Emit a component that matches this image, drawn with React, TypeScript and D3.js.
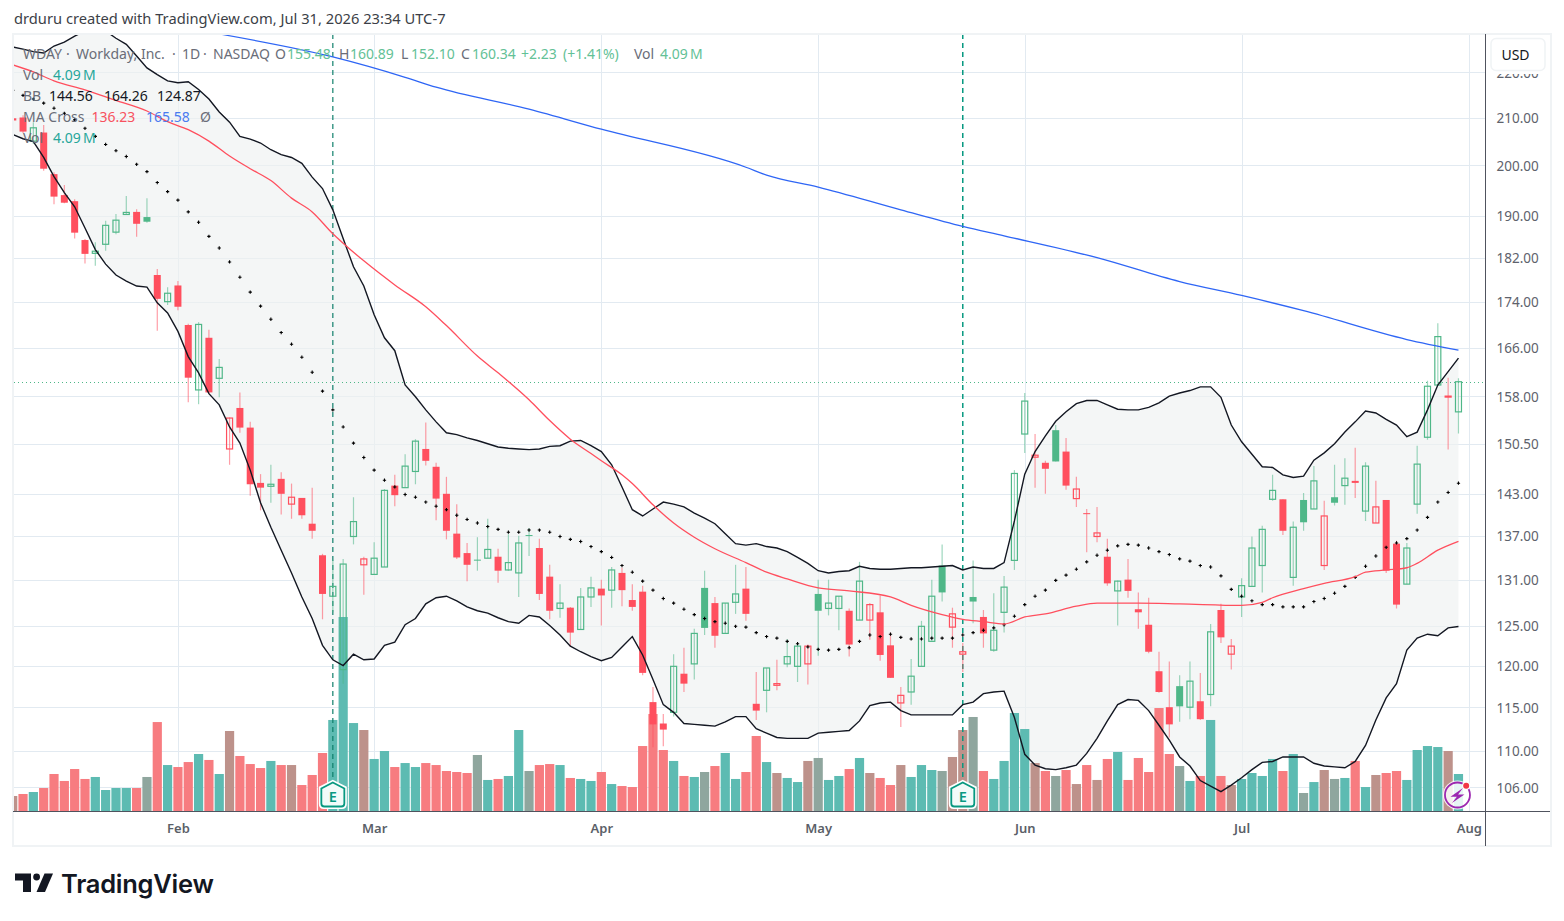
import { useEffect, useRef } from 'react';
import * as d3 from 'd3';

// R = filled red, G = hollow green, B = hollow red, T = filled green
const barKinds = (
  'BRGRRRRRGG' + 'GGRTRGRRGR' + 'GBRRRGRBRR' + 'RGGGBGGRGG' + 'RRRRRTGRGG' +
  'TRRGRGGRGR' + 'RRRRGRGTRG' + 'GRRGBGGBTG' + 'GRGBRRBGGG' + 'TBBTRGGGGB' +
  'RTRBRBRGRR' + 'RRRTGRGRBG' + 'GGGRGTGBTG' + 'RGBRRGGGGB' + 'G'
).split('');

const opens = [
  209.5, 210.0, 205.0, 206.8, 198.2, 194.0, 192.8, 185.3, 182.8, 184.5,
  186.8, 190.2, 190.7, 189.7, 178.8, 174.0, 176.9, 169.9, 159.0, 167.7,
  160.9, 149.7, 156.1, 153.0, 144.6, 144.1, 145.2, 141.5, 142.4, 138.7,
  134.3, 128.8, 119.5, 136.9, 133.0, 131.7, 132.7, 144.2, 143.9, 146.3,
  149.7, 147.0, 143.0, 137.3, 134.6, 133.7, 133.9, 134.1, 132.3, 131.9,
  137.1, 135.3, 131.4, 127.2, 127.3, 124.5, 128.7, 129.8, 129.6, 131.9,
  128.3, 129.4, 115.6, 113.1, 114.4, 119.0, 120.2, 129.9, 127.9, 124.0,
  128.0, 129.8, 115.4, 117.0, 117.6, 120.2, 119.9, 120.2, 129.1, 127.2,
  127.2, 126.9, 125.7, 125.7, 126.7, 122.5, 115.5, 116.8, 119.9, 123.0,
  132.9, 124.8, 121.4, 128.7, 126.1, 121.9, 126.7, 133.6, 152.0, 148.45,
  147.6, 152.6, 149.3, 142.3, 140.2, 136.9, 134.1, 129.5, 131.0, 127.1,
  125.1, 119.3, 115.0, 117.5, 115.0, 115.7, 116.5, 127.0, 121.4, 128.7,
  130.1, 132.9, 142.2, 142.2, 131.3, 142.1, 140.8, 132.9, 142.5, 144.2,
  144.9, 140.5, 138.8, 142.1, 135.9, 130.4, 141.5, 151.5, 159.8, 157.9,
  155.48,
];
const highs = [
  210.1, 210.5, 209.0, 208.4, 198.6, 196.0, 193.2, 185.5, 184.9, 189.0,
  190.3, 193.8, 191.2, 193.4, 179.9, 176.6, 177.7, 170.1, 170.4, 169.1,
  164.1, 154.6, 158.6, 153.9, 145.9, 147.3, 146.2, 144.5, 142.4, 143.9,
  134.5, 133.7, 133.8, 142.5, 134.1, 136.1, 143.7, 145.8, 148.9, 151.2,
  153.8, 147.6, 145.5, 141.5, 136.0, 136.8, 139.4, 135.2, 137.2, 137.0,
  138.1, 136.6, 133.0, 130.4, 127.4, 129.9, 131.4, 131.0, 132.7, 132.6,
  130.4, 130.2, 117.4, 114.2, 121.4, 122.2, 124.6, 132.2, 128.7, 127.9,
  133.0, 132.7, 119.2, 119.7, 120.7, 123.3, 122.8, 122.6, 131.0, 131.0,
  128.8, 127.2, 133.4, 127.9, 128.9, 124.1, 117.4, 120.8, 125.6, 131.0,
  135.8, 127.3, 122.8, 133.6, 127.0, 129.2, 131.5, 146.5, 158.5, 152.0,
  147.9, 153.4, 151.4, 145.5, 140.8, 141.1, 136.6, 130.9, 133.8, 129.3,
  128.6, 121.7, 120.5, 118.8, 120.5, 119.1, 125.2, 127.8, 123.3, 131.2,
  136.9, 138.4, 145.8, 142.2, 139.0, 143.1, 147.1, 142.0, 147.3, 148.3,
  149.9, 147.7, 144.9, 142.1, 136.3, 136.0, 150.2, 160.5, 170.2, 161.0,
  160.89,
];
const lows = [
  208.4, 206.7, 204.4, 198.9, 192.2, 192.4, 185.6, 180.9, 180.5, 183.3,
  186.4, 190.1, 185.9, 188.6, 168.9, 173.4, 172.5, 157.0, 156.7, 158.5,
  157.8, 147.3, 152.2, 142.7, 140.6, 141.7, 140.0, 139.4, 139.4, 136.6,
  125.8, 126.7, 117.8, 135.8, 129.0, 131.7, 132.7, 141.2, 143.9, 144.4,
  147.2, 139.2, 136.5, 133.8, 130.8, 132.2, 133.9, 130.6, 132.2, 128.7,
  134.2, 128.3, 125.8, 126.0, 122.3, 124.5, 127.4, 125.0, 127.3, 127.5,
  126.9, 118.8, 110.4, 110.5, 113.9, 116.8, 118.3, 123.8, 122.2, 124.0,
  126.5, 125.6, 113.5, 114.4, 117.0, 119.8, 118.0, 117.7, 121.2, 126.3,
  124.4, 121.1, 125.7, 123.2, 120.6, 118.5, 112.7, 115.3, 119.9, 123.0,
  128.1, 122.2, 119.2, 125.3, 122.2, 121.7, 124.1, 132.3, 149.1, 143.9,
  143.0, 147.8, 143.6, 141.1, 134.7, 136.1, 130.2, 125.0, 128.6, 124.6,
  121.5, 116.7, 111.5, 113.3, 113.6, 113.5, 115.1, 122.8, 119.5, 126.1,
  130.1, 129.3, 142.0, 137.1, 130.2, 137.7, 140.8, 132.3, 141.3, 141.4,
  142.4, 139.1, 138.8, 131.9, 127.2, 130.4, 140.1, 151.1, 159.8, 149.6,
  152.1,
];
const closes = [
  209.7, 207.0, 207.8, 199.3, 193.7, 192.5, 186.7, 182.7, 183.2, 188.1,
  189.1, 190.6, 188.4, 188.8, 174.5, 175.5, 173.1, 161.0, 170.0, 158.6,
  162.7, 154.5, 153.0, 144.4, 143.9, 144.4, 143.0, 142.5, 139.9, 137.7,
  129.1, 130.1, 133.1, 139.0, 133.8, 133.9, 143.5, 142.8, 147.1, 150.9,
  147.9, 142.3, 137.7, 134.0, 133.0, 133.6, 135.1, 132.2, 133.3, 136.0,
  137.0, 129.1, 126.9, 127.9, 124.1, 128.7, 129.9, 128.9, 132.3, 129.6,
  127.4, 119.1, 113.0, 112.4, 119.9, 117.8, 124.0, 124.7, 123.7, 127.9,
  129.1, 126.5, 114.6, 119.7, 117.8, 121.1, 122.4, 122.4, 126.9, 127.9,
  128.8, 122.6, 130.8, 127.7, 121.3, 118.5, 116.4, 118.7, 124.9, 128.8,
  129.3, 126.5, 121.7, 128.1, 124.0, 124.4, 130.0, 146.0, 157.2, 148.75,
  146.7, 147.8, 144.2, 143.7, 140.1, 137.4, 130.5, 130.8, 129.5, 126.7,
  121.7, 116.8, 113.0, 115.1, 118.1, 113.6, 124.2, 123.5, 122.4, 130.2,
  135.3, 137.9, 143.5, 137.7, 138.2, 138.9, 144.9, 139.8, 141.7, 145.3,
  144.6, 147.1, 141.1, 132.2, 127.7, 135.3, 147.4, 159.6, 167.9, 158.0,
  160.34,
];
// volume in millions of shares
const volumes = [
  1.66, 1.88, 2.1, 2.54, 4.09, 3.32, 4.64, 3.54, 3.76, 2.32,
  2.54, 2.54, 2.54, 3.76, 9.83, 5.08, 4.86, 5.41, 6.3, 5.64,
  4.09, 8.84, 6.08, 5.19, 4.75, 5.53, 5.08, 5.08, 2.87, 3.98,
  6.41, 10.06, 21.44, 9.72, 8.95, 5.75, 6.63, 4.86, 5.3, 4.86,
  5.3, 5.08, 4.42, 4.31, 4.2, 6.19, 3.43, 3.54, 3.87, 8.95,
  4.42, 5.08, 5.19, 5.08, 3.65, 3.54, 3.32, 4.31, 2.98, 2.76,
  2.65, 7.18, 10.72, 6.74, 5.53, 3.87, 3.76, 4.31, 4.97, 6.41,
  3.54, 4.31, 8.29, 5.41, 4.2, 3.65, 3.2, 5.53, 5.86, 3.43,
  3.87, 4.64, 5.86, 4.2, 3.65, 2.87, 5.08, 3.76, 5.08, 4.53,
  4.42, 5.97, 8.95, 10.39, 4.42, 3.54, 5.53, 10.83, 9.06, 5.3,
  4.42, 3.87, 4.53, 2.98, 5.08, 3.43, 5.75, 6.52, 3.43, 5.86,
  4.31, 11.38, 6.3, 4.97, 3.32, 3.87, 10.06, 3.87, 2.87, 3.54,
  4.2, 3.87, 5.75, 4.42, 6.3, 1.99, 3.2, 4.53, 3.54, 3.65,
  5.53, 2.65, 3.98, 4.2, 4.42, 3.43, 6.74, 7.18, 7.07, 6.63,
  4.09,
];
const bbUpper = [
  225.7, 225.2, 224.6, 224.3, 225.9, 226.8, 228.2, 229.4, 229.6, 229.4,
  227.7, 226.3, 223.6, 220.9, 219.4, 218.0, 217.6, 217.8, 216.1, 214.0,
  211.2, 209.0, 206.0, 205.4, 204.6, 203.2, 202.2, 201.6, 200.4, 197.6,
  195.3, 191.1, 185.6, 180.3, 176.8, 171.7, 167.7, 165.5, 159.8, 157.9,
  155.8, 153.9, 152.2, 151.9, 151.4, 151.0, 150.5, 150.0, 149.8, 149.7,
  149.6, 149.7, 150.1, 150.2, 150.9, 151.0, 150.2, 149.3, 147.3, 144.0,
  140.7, 139.8, 140.8, 141.8, 141.5, 141.1, 140.2, 139.5, 138.7, 137.3,
  135.9, 135.7, 135.9, 135.5, 135.3, 134.8, 134.0, 133.2, 132.2, 131.9,
  132.1, 132.2, 132.8, 132.5, 132.4, 132.4, 132.5, 132.6, 132.6, 132.7,
  132.8, 132.9, 132.3, 132.7, 132.5, 132.5, 133.3, 139.1, 145.9, 149.3,
  151.7, 154.0, 155.5, 156.8, 157.3, 157.3, 156.6, 155.9, 155.8, 155.8,
  156.2, 156.9, 158.0, 158.5, 158.9, 159.5, 159.5, 157.8, 153.4, 150.8,
  148.9, 147.0, 146.9, 145.8, 145.4, 145.6, 148.0, 149.1, 150.5, 152.3,
  153.9, 155.6, 155.3, 154.3, 153.4, 151.6, 152.3, 155.8, 159.8, 162.0,
  164.26,
];
const bbLower = [
  206.4, 205.5, 204.9, 201.6, 197.7, 194.5, 191.7, 187.6, 183.5, 180.8,
  178.8, 177.7, 176.8, 176.6, 173.8, 172.0, 168.8, 164.5, 161.8, 158.4,
  156.6, 153.1, 150.6, 146.5, 141.7, 138.2, 135.0, 131.9, 128.7, 125.9,
  122.5, 120.7, 120.0, 121.4, 120.7, 120.8, 122.5, 122.9, 125.1, 125.9,
  127.8, 128.6, 128.8, 128.2, 127.4, 126.9, 126.6, 126.0, 125.5, 125.3,
  126.3, 126.1, 125.0, 123.8, 122.4, 121.7, 121.1, 120.6, 121.0, 122.3,
  123.6, 121.3, 118.3, 115.3, 114.4, 113.1, 113.0, 112.9, 112.8, 113.3,
  113.9, 113.9, 112.5, 112.0, 111.5, 111.4, 111.4, 111.4, 112.0, 112.1,
  112.2, 112.3, 113.4, 115.2, 115.5, 115.6, 114.6, 114.1, 114.1, 114.1,
  114.1, 114.1, 115.3, 115.6, 116.6, 116.8, 116.9, 113.8, 109.6, 108.4,
  108.0, 107.9, 108.1, 108.4, 109.7, 111.4, 113.4, 115.3, 115.9, 115.8,
  114.6, 112.9, 111.2, 109.3, 108.3, 106.7, 106.1, 105.5, 106.2, 107.0,
  107.9, 108.7, 108.8, 109.3, 109.3, 109.3, 108.6, 108.3, 108.2, 108.1,
  108.8, 110.6, 113.5, 116.1, 117.8, 121.9, 123.4, 123.9, 123.7, 124.7,
  124.87,
];
const bbBasis = [
  215.9, 214.8, 214.0, 213.1, 212.0, 210.9, 209.5, 207.7, 206.0, 204.3,
  203.0, 201.8, 200.2, 198.7, 196.5, 194.7, 193.0, 190.7, 188.7, 186.0,
  183.8, 181.2, 178.4, 175.7, 173.2, 170.9, 168.6, 166.6, 164.4, 161.9,
  158.8, 155.8, 153.1, 150.6, 148.4, 146.5, 145.0, 144.0, 142.9, 142.5,
  141.8, 141.2, 140.7, 139.9, 139.3, 138.8, 138.3, 137.9, 137.5, 137.5,
  137.8, 137.8, 137.5, 136.9, 136.5, 136.2, 135.5, 134.8, 134.0, 132.9,
  132.0, 130.8, 129.6, 128.5, 127.9, 127.1, 126.4, 125.9, 125.5, 125.3,
  124.9, 124.8, 124.1, 123.6, 123.4, 123.0, 122.7, 122.3, 122.0, 121.9,
  122.0, 122.2, 123.0, 123.8, 123.6, 123.9, 123.5, 123.3, 123.3, 123.4,
  123.4, 123.4, 123.8, 124.1, 124.4, 124.7, 125.1, 126.2, 127.7, 128.8,
  129.6, 130.9, 131.6, 132.4, 133.4, 134.3, 135.0, 135.6, 135.8, 135.7,
  135.3, 134.8, 134.4, 133.8, 133.5, 132.9, 132.7, 131.5, 129.7, 128.8,
  128.2, 127.7, 127.7, 127.4, 127.4, 127.4, 128.1, 128.5, 129.2, 130.1,
  131.3, 132.8, 134.2, 135.4, 136.0, 136.6, 137.8, 139.6, 141.8, 143.2,
  144.56,
];
const ma50Bars = [
  0, 2, 4, 7, 10, 13, 15, 17, 19, 21, 23, 25, 27, 29, 31, 32, 34, 37, 40, 42,
  45, 47, 50, 52, 54, 56, 57, 59, 60, 62, 64, 66, 68, 71, 73, 75, 78, 81, 85, 87,
  90, 92, 94, 96, 98, 100, 103, 105, 109, 113, 119, 121, 122, 125, 127, 130, 131, 133, 135, 136,
  138, 140,
];
const ma50Values = [
  221.6, 220.0, 218.0, 216.0, 213.7, 211.4, 209.1, 207.4, 205.0, 201.9, 199.3, 196.9, 193.4, 190.7, 186.5, 184.7, 181.4, 177.0, 173.1, 169.8,
  164.6, 161.8, 157.4, 154.1, 151.2, 149.0, 147.9, 145.8, 144.5, 141.4, 138.8, 136.8, 135.2, 133.3, 132.0, 131.1, 129.9, 129.5, 128.7, 127.6,
  126.4, 125.8, 125.5, 125.2, 126.1, 126.5, 127.5, 127.9, 127.9, 127.8, 127.6, 128.0, 128.6, 129.8, 130.5, 131.4, 132.0, 132.3, 132.6, 133.2,
  135.0, 136.23,
];
const ma200Bars = [20, 31, 38, 41, 50, 57, 71, 73, 78, 86, 92, 96, 105, 113, 119, 125, 135, 140];
const ma200Values = [228.7, 223.4, 218.8, 216.6, 211.8, 207.5, 199.6, 198.0, 195.6, 191.1, 187.9, 186.1, 182.0, 177.6, 175.1, 172.4, 167.4, 165.58];

const priceTicks = [220, 210, 200, 190, 182, 174, 166, 158, 150.5, 143, 137, 131, 125, 120, 115, 110, 106];
const monthLabels = ['Feb', 'Mar', 'Apr', 'May', 'Jun', 'Jul', 'Aug'];
const monthBars = [16, 35, 57, 78, 98, 119, 141];
const earningsBars = [31, 92];
const lastClose = 160.34;

const GREEN = '#4fb788';
const RED = '#ff4f5e';
const BLUE = '#2f66f5';
const TEAL = '#26a69a';
const GRID = '#e2eaf1';
const FRAME = '#f0f3f5';
const FONT = '"Noto Sans", sans-serif';
const volumeColors: Record<string, string> = { R: '#f77c80', G: '#5dbbb2', B: '#bd928b', T: '#8fa69e' };

export default function App() {
  const svgRef = useRef<SVGSVGElement>(null);

  useEffect(() => {
    if (!svgRef.current) return;
    const svg = d3.select(svgRef.current);
    svg.selectAll('*').remove();

    const left = 14;
    const right = 1485.5;
    const top = 34;
    const bottom = 811;

    const x = d3.scaleLinear().domain([0, 141]).range([12.7, 1468.8]);
    const y = d3.scaleLog().domain([106, 210]).range([787, 117.5]);
    const yVol = d3.scaleLinear().domain([0, 21.44]).range([bottom, 617]);
    const bars = d3.range(closes.length);
    const crisp = (v: number) => Math.round(v) + 0.5;
    const isGreen = (i: number) => barKinds[i] === 'G' || barKinds[i] === 'T';
    const isHollow = (i: number) => barKinds[i] === 'G' || barKinds[i] === 'B';

    svg.append('clipPath').attr('id', 'pane').append('rect')
      .attr('x', left).attr('y', top).attr('width', right - left).attr('height', bottom - top);

    const gridLayer = svg.append('g').attr('clip-path', 'url(#pane)');
    gridLayer.selectAll('.h').data(priceTicks).join('line')
      .attr('x1', left).attr('x2', right)
      .attr('y1', (d) => crisp(y(d))).attr('y2', (d) => crisp(y(d)))
      .attr('stroke', GRID).attr('stroke-width', 1);
    gridLayer.selectAll('.v').data(monthBars).join('line')
      .attr('x1', (d) => crisp(x(d))).attr('x2', (d) => crisp(x(d)))
      .attr('y1', top).attr('y2', bottom)
      .attr('stroke', GRID).attr('stroke-width', 1);

    const pane = svg.append('g').attr('clip-path', 'url(#pane)');

    // bollinger fill sits under the volume
    const band = d3.area<number>()
      .x((i) => x(i))
      .y0((i) => y(bbLower[i]))
      .y1((i) => y(bbUpper[i]));
    pane.append('path').attr('d', band(bars)).attr('fill', '#eef1f1').attr('fill-opacity', 0.65);

    // volume
    pane.append('g').selectAll('rect').data(bars).join('rect')
      .attr('x', (i) => x(i) - 4.6)
      .attr('width', 9.2)
      .attr('y', (i) => yVol(volumes[i]))
      .attr('height', (i) => bottom - yVol(volumes[i]))
      .attr('fill', (i) => volumeColors[barKinds[i]]);

    // earnings lines, the later one is the stronger in the picture
    pane.selectAll('.earn').data(earningsBars).join('line')
      .attr('x1', (d) => x(d)).attr('x2', (d) => x(d))
      .attr('y1', top).attr('y2', 782)
      .attr('stroke', (_, k) => (k === 0 ? '#0f7f6b' : '#089981'))
      .attr('stroke-width', (_, k) => (k === 0 ? 1.2 : 1.5))
      .attr('stroke-dasharray', '5,4');

    // last price
    pane.append('line')
      .attr('x1', left).attr('x2', right)
      .attr('y1', crisp(y(lastClose))).attr('y2', crisp(y(lastClose)))
      .attr('stroke', GREEN).attr('stroke-width', 1).attr('stroke-dasharray', '1,3');

    // candles
    const candles = pane.append('g');
    candles.selectAll('line').data(bars).join('line')
      .attr('x1', (i) => x(i)).attr('x2', (i) => x(i))
      .attr('y1', (i) => y(highs[i])).attr('y2', (i) => y(lows[i]))
      .attr('stroke', (i) => (isGreen(i) ? GREEN : RED))
      .attr('stroke-opacity', 0.55)
      .attr('stroke-width', 1.2);
    candles.selectAll('rect').data(bars).join('rect')
      .attr('x', (i) => x(i) - (isHollow(i) ? 3 : 3.5))
      .attr('width', (i) => (isHollow(i) ? 6 : 7))
      .attr('y', (i) => y(Math.max(opens[i], closes[i])))
      .attr('height', (i) => Math.max(1, y(Math.min(opens[i], closes[i])) - y(Math.max(opens[i], closes[i]))))
      .attr('fill', (i) => (isHollow(i) ? '#ffffff' : isGreen(i) ? GREEN : RED))
      .attr('fill-opacity', (i) => (isHollow(i) ? 0 : 1))
      .attr('stroke', (i) => (isGreen(i) ? GREEN : RED))
      .attr('stroke-width', (i) => (isHollow(i) ? 1.2 : 0));

    // bollinger basis as small crosses, then lines
    const cross = d3.symbol().type(d3.symbolCross).size(6);
    pane.append('g').selectAll('path').data(bars).join('path')
      .attr('d', cross())
      .attr('transform', (i) => `translate(${x(i)},${y(bbBasis[i])})`)
      .attr('fill', '#000000');

    const series = (vals: number[]) => d3.line<number>().x((i) => x(i)).y((i) => y(vals[i]))(bars);
    pane.append('path').attr('d', series(bbUpper)).attr('fill', 'none').attr('stroke', '#131722').attr('stroke-width', 1.4);
    pane.append('path').attr('d', series(bbLower)).attr('fill', 'none').attr('stroke', '#131722').attr('stroke-width', 1.4);

    const knots = (idx: number[], vals: number[]) =>
      d3.line<number>().x((_, k) => x(idx[k])).y((_, k) => y(vals[k])).curve(d3.curveMonotoneX)(idx);
    pane.append('path').attr('d', knots(ma50Bars, ma50Values)).attr('fill', 'none').attr('stroke', RED).attr('stroke-width', 1.3);
    pane.append('path').attr('d', knots(ma200Bars, ma200Values)).attr('fill', 'none').attr('stroke', BLUE).attr('stroke-width', 1.3);

    // axes
    const yAxis = d3.axisRight(y).tickValues(priceTicks).tickFormat((d) => d3.format('.2f')(d as number)).tickSize(0).tickPadding(11);
    const yG = svg.append('g').attr('transform', `translate(${right},0.8)`).call(yAxis);
    yG.select('.domain').remove();
    yG.selectAll('text').attr('font-family', FONT).attr('font-size', 13.5).attr('fill', '#5e626c');

    const xAxis = d3.axisBottom(x).tickValues(monthBars)
      .tickFormat((_, i) => monthLabels[i]).tickSize(0).tickPadding(12.5);
    const xG = svg.append('g').attr('transform', `translate(0,${bottom})`).call(xAxis);
    xG.select('.domain').remove();
    xG.selectAll('text').attr('font-family', FONT).attr('font-size', 13).attr('font-weight', 600).attr('fill', '#5b5f68');

    // frame and scale lines
    svg.append('rect').attr('x', 13).attr('y', 34).attr('width', 1538).attr('height', 812)
      .attr('fill', 'none').attr('stroke', FRAME).attr('stroke-width', 2);
    svg.append('line').attr('x1', right).attr('x2', right).attr('y1', top).attr('y2', 846).attr('stroke', '#50535e').attr('stroke-width', 1);
    svg.append('line').attr('x1', 13).attr('x2', 1550).attr('y1', bottom + 0.5).attr('y2', bottom + 0.5).attr('stroke', '#50535e').attr('stroke-width', 1);

    // currency button covers the top tick label
    svg.append('rect').attr('x', 1488).attr('y', 36).attr('width', 61).attr('height', 38).attr('fill', '#ffffff');
    svg.append('rect').attr('x', 1491).attr('y', 38.5).attr('width', 54).attr('height', 32).attr('rx', 5)
      .attr('fill', '#ffffff').attr('stroke', FRAME).attr('stroke-width', 1.5);
    svg.append('text').attr('x', 1515.5).attr('y', 59.5).attr('text-anchor', 'middle')
      .attr('font-family', FONT).attr('font-size', 14).attr('fill', '#131722').text('USD');

    // earnings flags
    const flags = svg.append('g').selectAll('g').data(earningsBars).join('g')
      .attr('transform', (d) => `translate(${x(d)},0)`);
    flags.append('path')
      .attr('d', 'M0,782 L12,788 V804 Q12,807 9,807 H-9 Q-12,807 -12,804 V788 Z')
      .attr('fill', '#f2fbf9').attr('stroke', '#ffffff').attr('stroke-width', 4).attr('paint-order', 'stroke');
    flags.append('path')
      .attr('d', 'M0,782.5 L11.5,788.5 V803.5 Q11.5,806.5 8.5,806.5 H-8.5 Q-11.5,806.5 -11.5,803.5 V788.5 Z')
      .attr('fill', 'none').attr('stroke', '#089981').attr('stroke-width', 1.8);
    flags.append('text').attr('y', 802).attr('text-anchor', 'middle')
      .attr('font-family', FONT).attr('font-size', 14.5).attr('font-weight', 600).attr('fill', '#089981').text('E');

    // lightning badge on the last bar
    const badge = svg.append('g').attr('transform', `translate(${x(140) - 1},795)`);
    badge.append('circle').attr('r', 14.5).attr('fill', '#ffffff').attr('fill-opacity', 0.85);
    badge.append('circle').attr('r', 12.5).attr('fill', 'none').attr('stroke', '#9c27b0').attr('stroke-width', 1.8);
    badge.append('path').attr('d', 'M5.5,-7 L-7,1.8 L-0.6,1.8 L-5.5,8 L7,-0.6 L0.6,-0.6 Z').attr('fill', '#9c27b0');
    badge.append('circle').attr('cx', 8.7).attr('cy', -9.3).attr('r', 4.2).attr('fill', '#ffffff');
    badge.append('circle').attr('cx', 8.7).attr('cy', -9.3).attr('r', 3).attr('fill', '#f23645');

    // header and legend
    svg.append('text').attr('x', 14).attr('y', 24)
      .attr('font-family', FONT).attr('font-size', 14.7).attr('fill', '#3c3f47')
      .text('drduru created with TradingView.com, Jul 31, 2026 23:34 UTC-7');

    const legendItems: [number, number, string, string][] = [
      [23, 59, 'WDAY', '#6a6d78'], [66, 59, '·', '#6a6d78'], [76, 59, 'Workday, Inc.', '#6a6d78'],
      [172, 59, '·', '#6a6d78'], [182, 59, '1D', '#6a6d78'], [203, 59, '·', '#6a6d78'], [213, 59, 'NASDAQ', '#6a6d78'],
      [275, 59, 'O', '#6a6d78'], [287, 59, '155.48', '#63c196'],
      [339, 59, 'H', '#6a6d78'], [350, 59, '160.89', '#63c196'],
      [401, 59, 'L', '#6a6d78'], [411, 59, '152.10', '#63c196'],
      [461, 59, 'C', '#6a6d78'], [472, 59, '160.34', '#63c196'],
      [521, 59, '+2.23', '#63c196'], [563, 59, '(+1.41%)', '#63c196'],
      [634, 59, 'Vol', '#6a6d78'], [660, 59, '4.09\u2009M', '#63c196'],
      [23, 80, 'Vol', '#6a6d78'], [53, 80, '4.09\u2009M', TEAL],
      [23, 101, 'BB', '#6a6d78'], [49, 101, '144.56', '#131722'], [104, 101, '164.26', '#131722'], [157, 101, '124.87', '#131722'],
      [23, 122, 'MA Cross', '#6a6d78'], [91.5, 122, '136.23', '#f7525f'], [146, 122, '165.58', '#4a7bf0'], [200, 122, 'Ø', '#6a6d78'],
      [23, 143, 'Vol', '#6a6d78'], [53, 143, '4.09\u2009M', TEAL],
    ];
    svg.append('g').selectAll('text').data(legendItems).join('text')
      .attr('x', (d) => d[0]).attr('y', (d) => d[1])
      .attr('font-family', FONT).attr('font-size', 14)
      .attr('fill', (d) => d[3])
      .text((d) => d[2]);

    // logo
    const logo = svg.append('g').attr('fill', '#131722');
    logo.append('path').attr('d', 'M15,873.5 H31 V892 H23 V880.5 H15 Z');
    logo.append('circle').attr('cx', 36.6).attr('cy', 877).attr('r', 3.4);
    logo.append('path').attr('d', 'M44.5,873.5 H53 L45,892 H36.5 Z');
    logo.append('text').attr('x', 61).attr('y', 893)
      .attr('font-family', '"Inter", sans-serif').attr('font-size', 25.5).attr('font-weight', 600).attr('letter-spacing', -0.25)
      .text('TradingView');
  }, []);

  return (
    <svg
      ref={svgRef}
      width={1564}
      height={921}
      style={{ position: 'absolute', left: 0, top: 0, display: 'block', background: '#ffffff' }}
    />
  );
}
